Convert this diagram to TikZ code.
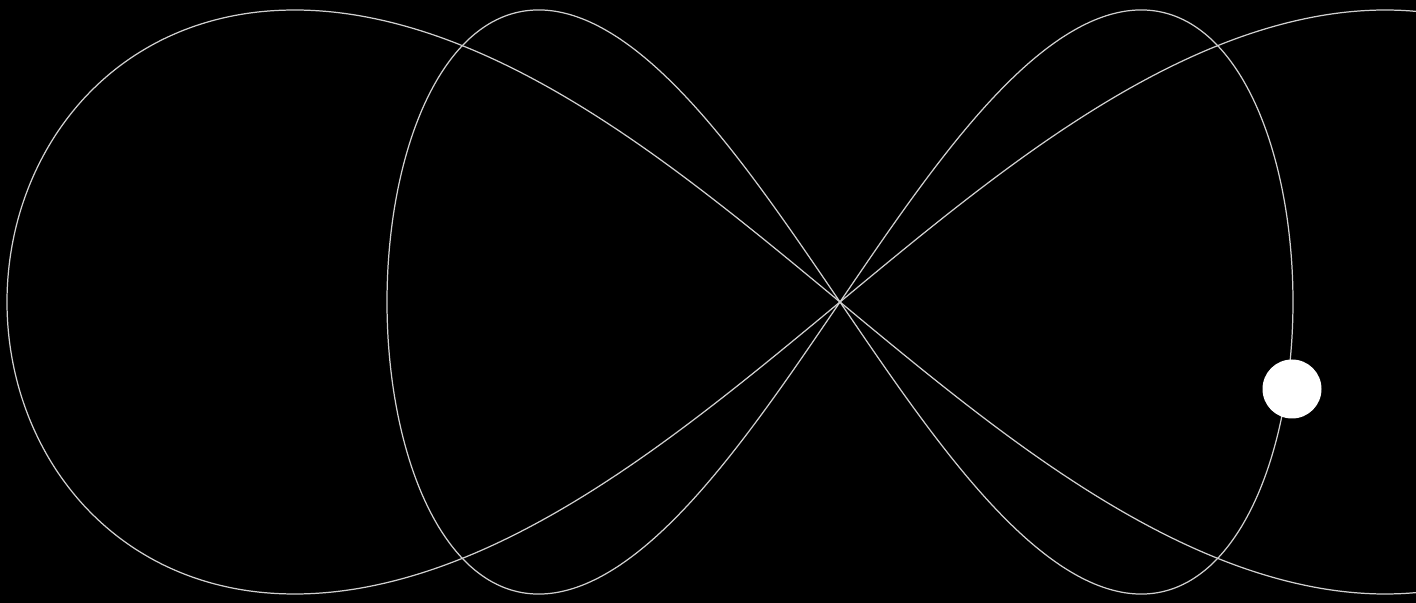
\documentclass[tikz,border=0pt]{standalone}
\usepackage{tikz}
\usetikzlibrary{positioning}
\definecolor{mBack}{HTML}{000000}
\definecolor{mTrace}{HTML}{D0D0D0}

\begin{document}
\begin{tikzpicture}[orbit/.style={mTrace, line width=0.35pt}]
    \fill[mBack] (0,0) rectangle (14.16,6.03);
    \useasboundingbox (0,0) rectangle (14.16,6.03);
    \clip (0,0) rectangle (14.16,6.03);
    \coordinate (cross) at (8.40,3.01);
    % two figure-eight traces through the same crossing
    \foreach \A/\k/\C in {8.33/0.4/6.91, 4.53/0.3/6.66} {
      \draw[orbit] plot[domain=0:360, samples=361, smooth, variable=\t]
        ({8.40 + \A*cos(\t)/(1+\k*sin(\t)*sin(\t))},
         {3.01 + \C*sin(\t)*cos(\t)/(1+\k*sin(\t)*sin(\t))});
    }
    \node[circle, fill=white, inner sep=0pt, minimum size=0.59cm] (bob) at (12.92,2.14) {};
  \end{tikzpicture}
\end{document}
